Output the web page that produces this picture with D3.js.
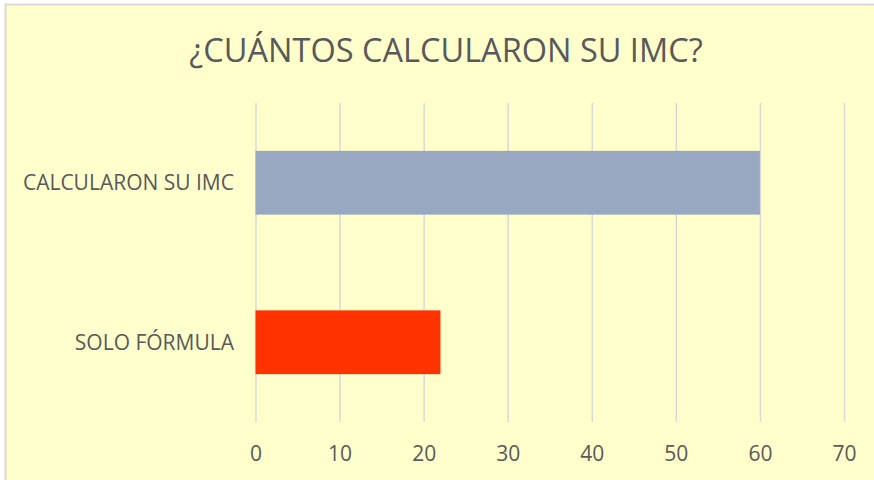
<!DOCTYPE html>
<html>
<head>
<meta charset="utf-8">
<script src="https://cdn.jsdelivr.net/npm/d3@7"></script>
<style>
  html, body { margin: 0; padding: 0; background: #fff; }
  svg { display: block; }
</style>
</head>
<body>
<div id="chart"></div>
<script>
// data
const categories = ["CALCULARON SU IMC", "SOLO FÓRMULA"];
const values = [60, 22];
const barColors = ["#98A8C0", "#FF3300"];
const xTicks = [0, 10, 20, 30, 40, 50, 60, 70];
const title = "¿CUÁNTOS CALCULARON SU IMC?";

const width = 874;
const height = 480;
const font = "'Open Sans', 'DejaVu Sans', sans-serif";
const textColor = "#595959";

const svg = d3.select("#chart")
    .append("svg")
    .attr("width", width)
    .attr("height", height);

// chart area (border runs off the right and bottom)
svg.append("rect")
    .attr("x", 5.5)
    .attr("y", 4.5)
    .attr("width", width + 10)
    .attr("height", height + 10)
    .attr("fill", "#FFFFCC")
    .attr("stroke", "#D9D9D9")
    .attr("stroke-width", 2);

svg.append("text")
    .attr("x", 446)
    .attr("y", 62)
    .attr("text-anchor", "middle")
    .attr("font-family", font)
    .attr("font-size", 32.5)
    .attr("fill", textColor)
    .text(title);

const xScale = d3.scaleLinear().domain([0, 70]).range([255.5, 844]);
const yScale = d3.scaleBand()
    .domain(categories)
    .range([103, 422])
    .paddingInner(0.6)
    .paddingOuter(0.3);

// vertical gridlines
const grid = svg.append("g")
    .attr("transform", "translate(0, 422)")
    .call(d3.axisBottom(xScale).tickValues(xTicks).tickSize(-(422 - 103)).tickFormat(""));
grid.select(".domain").remove();
grid.selectAll(".tick line").attr("stroke", "#D9D9D9").attr("stroke-width", 1.5);

// bars
svg.append("g")
    .selectAll("rect")
    .data(values)
    .join("rect")
    .attr("x", xScale(0))
    .attr("y", (d, i) => yScale(categories[i]))
    .attr("width", d => xScale(d) - xScale(0))
    .attr("height", yScale.bandwidth())
    .attr("fill", (d, i) => barColors[i]);

// x tick labels
const xAxis = svg.append("g")
    .attr("transform", "translate(0, 422)")
    .call(d3.axisBottom(xScale).tickValues(xTicks).tickSize(0).tickPadding(0));
xAxis.select(".domain").remove();
xAxis.selectAll("text")
    .attr("y", 39)
    .attr("dy", null)
    .attr("font-family", font)
    .attr("font-size", 21)
    .attr("fill", textColor);

// category labels
const yAxis = svg.append("g")
    .attr("transform", "translate(234, 0)")
    .call(d3.axisLeft(yScale).tickSize(0).tickPadding(0));
yAxis.select(".domain").remove();
yAxis.selectAll("text")
    .attr("dy", "0.36em")
    .attr("font-family", font)
    .attr("font-size", 21)
    .attr("fill", textColor);
</script>
</body>
</html>
